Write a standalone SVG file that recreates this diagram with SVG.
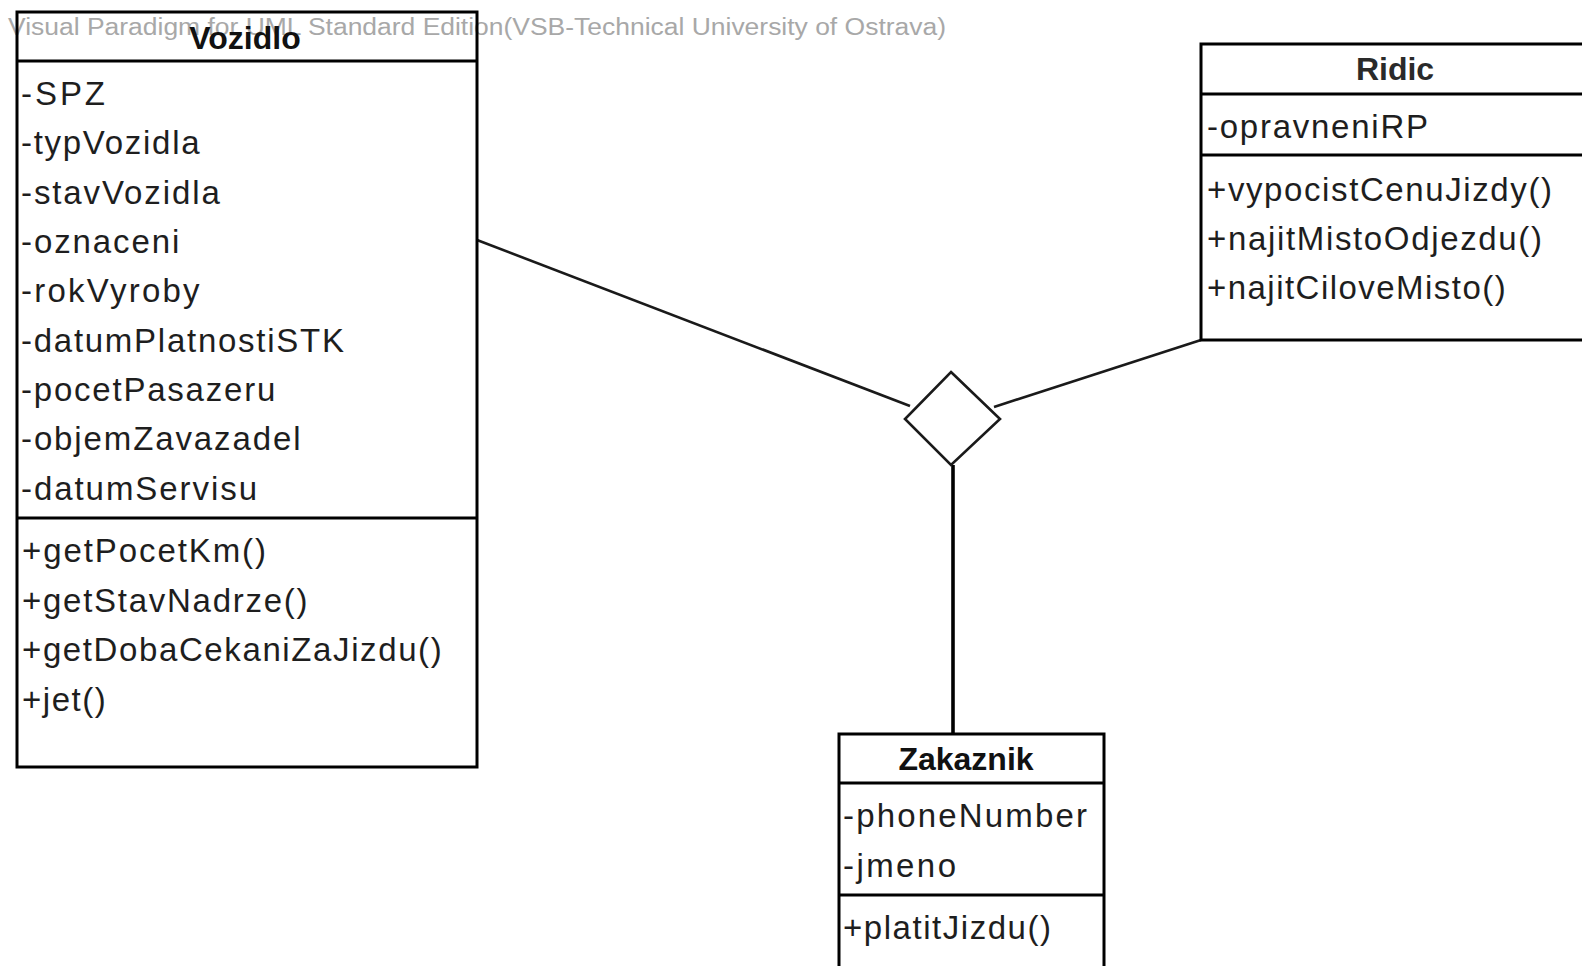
<svg xmlns="http://www.w3.org/2000/svg" width="1582" height="966" viewBox="0 0 1582 966">
  <style>
    .box { fill: none; stroke: #000; stroke-width: 3; }
    .sep { stroke: #000; stroke-width: 3; }
    .title { font-family: "Liberation Sans", Arial, sans-serif; font-size: 32px; font-weight: bold; fill: #111; text-anchor: middle; }
    .member { font-family: "Liberation Sans", Arial, sans-serif; font-size: 33px; fill: #1e1e1e; }
    .wm { font-family: "Liberation Sans", Arial, sans-serif; font-size: 23px; fill: #a8a8a8; }
    .link { fill: none; stroke: #1a1a1a; stroke-width: 2.6; }
    .stem { fill: none; stroke: #000; stroke-width: 3.6; }
  </style>
  <rect x="0" y="0" width="1582" height="966" fill="#fff"/>

  <!-- edition banner -->
  <text class="wm" x="8" y="35" textLength="938" lengthAdjust="spacingAndGlyphs">Visual Paradigm for UML Standard Edition(VSB-Technical University of Ostrava)</text>

  <!-- association lines into the n-ary diamond -->
  <g id="connectors">
    <line class="link" x1="477" y1="240" x2="910" y2="406"/>
    <line class="link" x1="1201" y1="340" x2="994" y2="407"/>
    <line class="stem" x1="953" y1="465" x2="953" y2="733"/>
    <polygon id="assoc-diamond" class="link" fill="#fff" style="fill:#fff" points="951,372 1000,419 951,465 905,419"/>
  </g>

  <g id="vozidlo">
    <rect class="box" x="17" y="12" width="460" height="755"/>
    <line class="sep" x1="17" y1="61" x2="477" y2="61"/>
    <line class="sep" x1="17" y1="518" x2="477" y2="518"/>
    <text class="title" x="245" y="49">Vozidlo</text>
    <text class="member" x="21" y="104.5" textLength="84" lengthAdjust="spacing">-SPZ</text>
    <text class="member" x="21" y="154" textLength="178.6" lengthAdjust="spacing">-typVozidla</text>
    <text class="member" x="21" y="203.5" textLength="198.8" lengthAdjust="spacing">-stavVozidla</text>
    <text class="member" x="21" y="252.5" textLength="158.4" lengthAdjust="spacing">-oznaceni</text>
    <text class="member" x="21" y="302" textLength="178.6" lengthAdjust="spacing">-rokVyroby</text>
    <text class="member" x="21" y="351.5" textLength="322.9" lengthAdjust="spacing">-datumPlatnostiSTK</text>
    <text class="member" x="21" y="400.5" textLength="254.3" lengthAdjust="spacing">-pocetPasazeru</text>
    <text class="member" x="21" y="450" textLength="279.5" lengthAdjust="spacing">-objemZavazadel</text>
    <text class="member" x="21" y="499.5" textLength="236" lengthAdjust="spacing">-datumServisu</text>
    <text class="member" x="22" y="562" textLength="244" lengthAdjust="spacing">+getPocetKm()</text>
    <text class="member" x="22" y="611.5" textLength="285.5" lengthAdjust="spacing">+getStavNadrze()</text>
    <text class="member" x="22" y="661" textLength="419.7" lengthAdjust="spacing">+getDobaCekaniZaJizdu()</text>
    <text class="member" x="22" y="710.5" textLength="83.7" lengthAdjust="spacing">+jet()</text>
  </g>

  <g id="ridic">
    <rect class="box" x="1201" y="44" width="390" height="296"/>
    <line class="sep" x1="1201" y1="94" x2="1591" y2="94"/>
    <line class="sep" x1="1201" y1="155" x2="1591" y2="155"/>
    <text class="title" x="1395" y="80" style="fill:#2a2a2a">Ridic</text>
    <text class="member" x="1207" y="138" textLength="221" lengthAdjust="spacing">-opravneniRP</text>
    <text class="member" x="1207" y="200.5" textLength="345" lengthAdjust="spacing">+vypocistCenuJizdy()</text>
    <text class="member" x="1207" y="250" textLength="335" lengthAdjust="spacing">+najitMistoOdjezdu()</text>
    <text class="member" x="1207" y="298.5" textLength="298.7" lengthAdjust="spacing">+najitCiloveMisto()</text>
  </g>

  <g id="zakaznik">
    <rect class="box" x="839" y="734" width="265" height="250"/>
    <line class="sep" x1="839" y1="783" x2="1104" y2="783"/>
    <line class="sep" x1="839" y1="895" x2="1104" y2="895"/>
    <text class="title" x="966" y="770">Zakaznik</text>
    <text class="member" x="843" y="827" textLength="244" lengthAdjust="spacing">-phoneNumber</text>
    <text class="member" x="843" y="876.5" textLength="113" lengthAdjust="spacing">-jmeno</text>
    <text class="member" x="843" y="939" textLength="208" lengthAdjust="spacing">+platitJizdu()</text>
  </g>
</svg>
